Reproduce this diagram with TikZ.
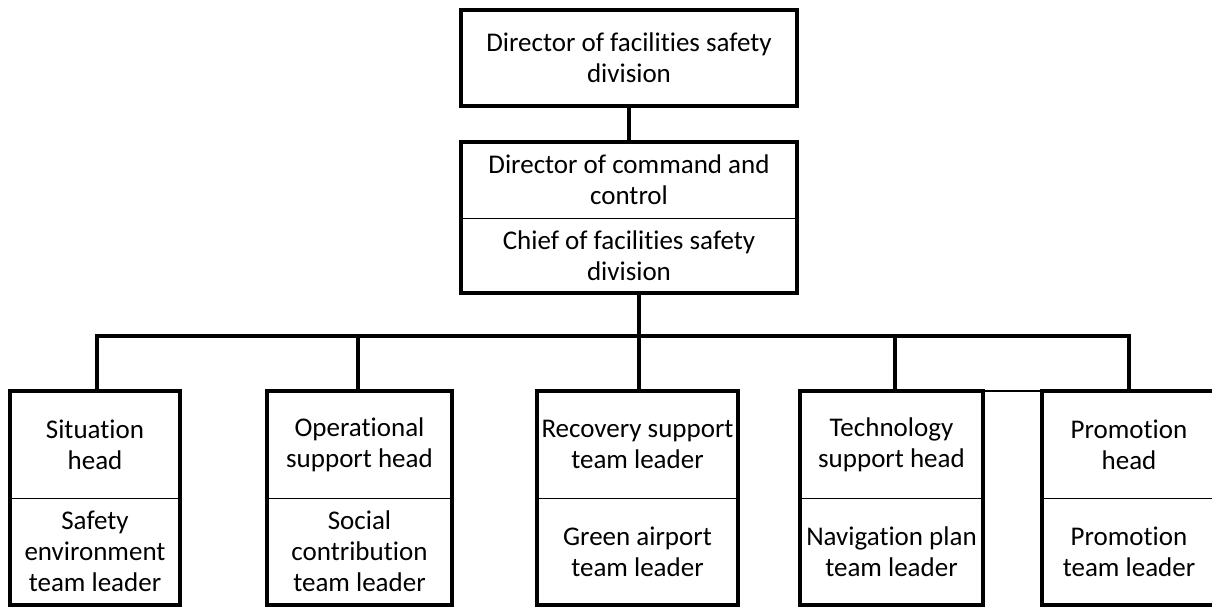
\documentclass[tikz,border=0pt]{standalone}
\usepackage{fontspec}
\setmainfont{Carlito}[Ligatures={NoCommon}]
\begin{document}
\begin{tikzpicture}[x=1pt,y=-1pt,
  sec/.style={draw=none, align=center, inner sep=0pt, font=\fontsize{27}{31}\selectfont},
  boxline/.style={line width=3.5pt},
  divline/.style={line width=1.2pt},
  link/.style={line width=3.5pt}]
\useasboundingbox (0,0) rectangle (1212,606);
\clip (0,0) rectangle (1212,606);
% top
\node[sec, minimum width=336pt, minimum height=96pt] (T) at (629,58) {Director of facilities safety\\division};
\draw[boxline] (T.north west) rectangle (T.south east);
% second
\node[sec, minimum width=336pt, minimum height=76pt] (S1) at (629,180) {Director of command and\\control};
\node[sec, minimum width=336pt, minimum height=75pt] (S2) at (629,255.5) {Chief of facilities safety\\division};
\draw[boxline] (S1.north west) rectangle (S2.south east);
\draw[divline] (S1.south west) -- (S1.south east);
\draw[link] (T.south) -- (S1.north);
% bottom boxes
\foreach \n/\cx/\w/\ta/\tb in {
  1/95/170/{Situation\\head}/{Safety\\environment\\team leader},
  2/359.5/185/{Operational\\support head}/{Social\\contribution\\team leader},
  3/637.5/201/{Recovery support\\team leader}/{Green airport\\team leader},
  4/891.5/183/{Technology\\support head}/{Navigation plan\\team leader},
  5/1129/174/{Promotion\\head}/{Promotion\\team leader}}{
  \node[sec, minimum width=\w pt, minimum height=107pt] (U\n) at (\cx,444.5) {\ta};
  \node[sec, minimum width=\w pt, minimum height=107pt] (L\n) at (\cx,551.5) {\tb};
  \draw[boxline] (U\n.north west) rectangle (L\n.south east);
  \draw[divline] (U\n.south west) -- (U\n.south east);
}
% connectors
\coordinate (bus) at (639,336);
\coordinate (busL) at (97,336);
\coordinate (busR) at (1129,336);
\coordinate (d2) at (358,336);
\coordinate (d4) at (895,336);
\draw[link] (S2.south -| bus) -- (bus);
\draw[link] (busL |- U1.north) -- (busL) -- (busR) -- (busR |- U5.north);
\draw[link] (d2) -- (d2 |- U2.north);
\draw[link] (bus) -- (bus |- U3.north);
\draw[link] (d4) -- (d4 |- U4.north);
\draw[line width=1.5pt] (U4.north east) -- (U5.north west);
\end{tikzpicture}
\end{document}
